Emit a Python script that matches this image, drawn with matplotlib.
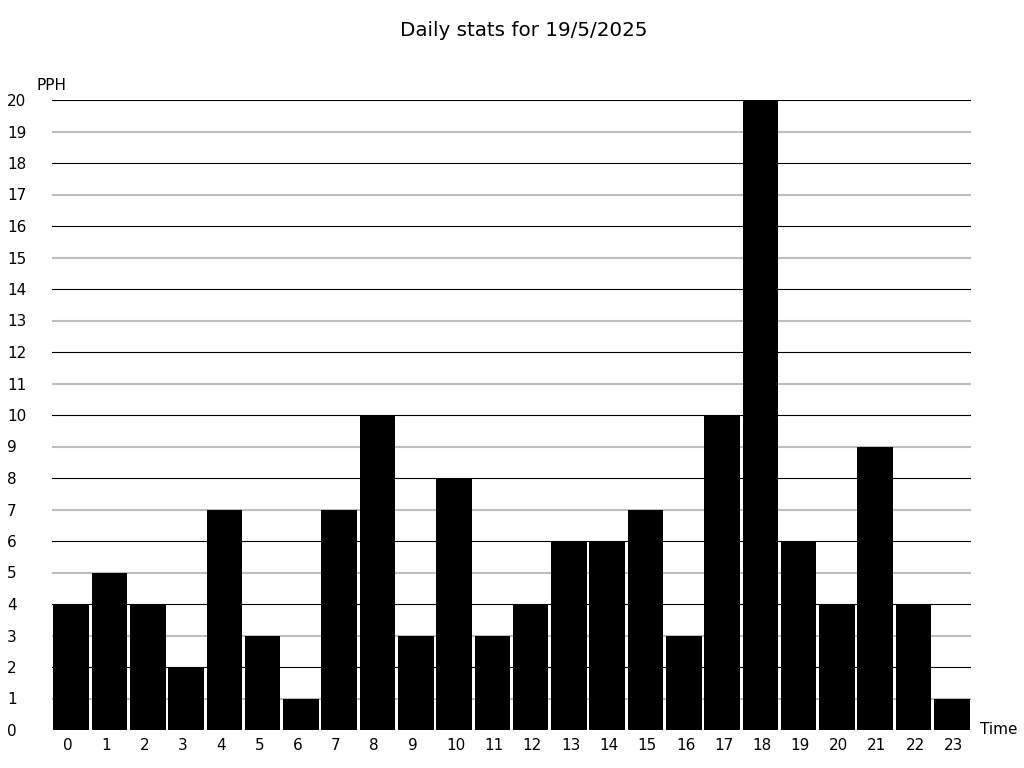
import matplotlib
matplotlib.use("Agg")
import matplotlib.pyplot as plt
from matplotlib.transforms import ScaledTranslation

hours = list(range(24))
pph = [4, 5, 4, 2, 7, 3, 1, 7, 10, 3, 8, 3, 4, 6, 6, 7, 3, 10, 20, 6, 4, 9, 4, 1]
y_ticks = list(range(0, 21))
title = "Daily stats for 19/5/2025"

fig = plt.figure(figsize=(10.24, 7.68), dpi=100)
ax = fig.add_axes([52/1024, 1-730/768, (971-52)/1024, (730-100)/768])

for v in y_ticks:
    if v % 2 == 0:
        ax.axhline(v, color="black", lw=0.8, zorder=1)
    else:
        ax.axhline(v, color="#bdbdbd", lw=1.5, zorder=1)

ax.bar(hours, pph, width=0.93, color="black", zorder=2)
ax.set_xlim(-0.5, 23.5)
ax.set_ylim(0, 20)
for s in ax.spines.values():
    s.set_visible(False)
ax.set_xticks(hours)
ax.set_xticklabels([str(h) for h in hours], fontsize=11)
ax.set_yticks(y_ticks)
ax.set_yticklabels([str(v) for v in y_ticks], fontsize=11)
ax.tick_params(axis="both", length=0)
ax.tick_params(axis="x", pad=6)
ax.tick_params(axis="y", pad=32.4)
for lab in ax.get_yticklabels():
    lab.set_horizontalalignment("left")
off = ScaledTranslation(-8/100, 0, fig.dpi_scale_trans)
for lab in ax.get_xticklabels():
    lab.set_horizontalalignment("left")
    lab.set_transform(lab.get_transform() + off)

fig.text(524/1024, 1-30/768, title, ha="center", va="center", fontsize=14.3)
fig.text(37/1024, 1-85/768, "PPH", ha="left", va="center", fontsize=11)
fig.text(980/1024, 1-730/768, "Time", ha="left", va="center", fontsize=11)

fig.savefig("out.png", dpi=100)
